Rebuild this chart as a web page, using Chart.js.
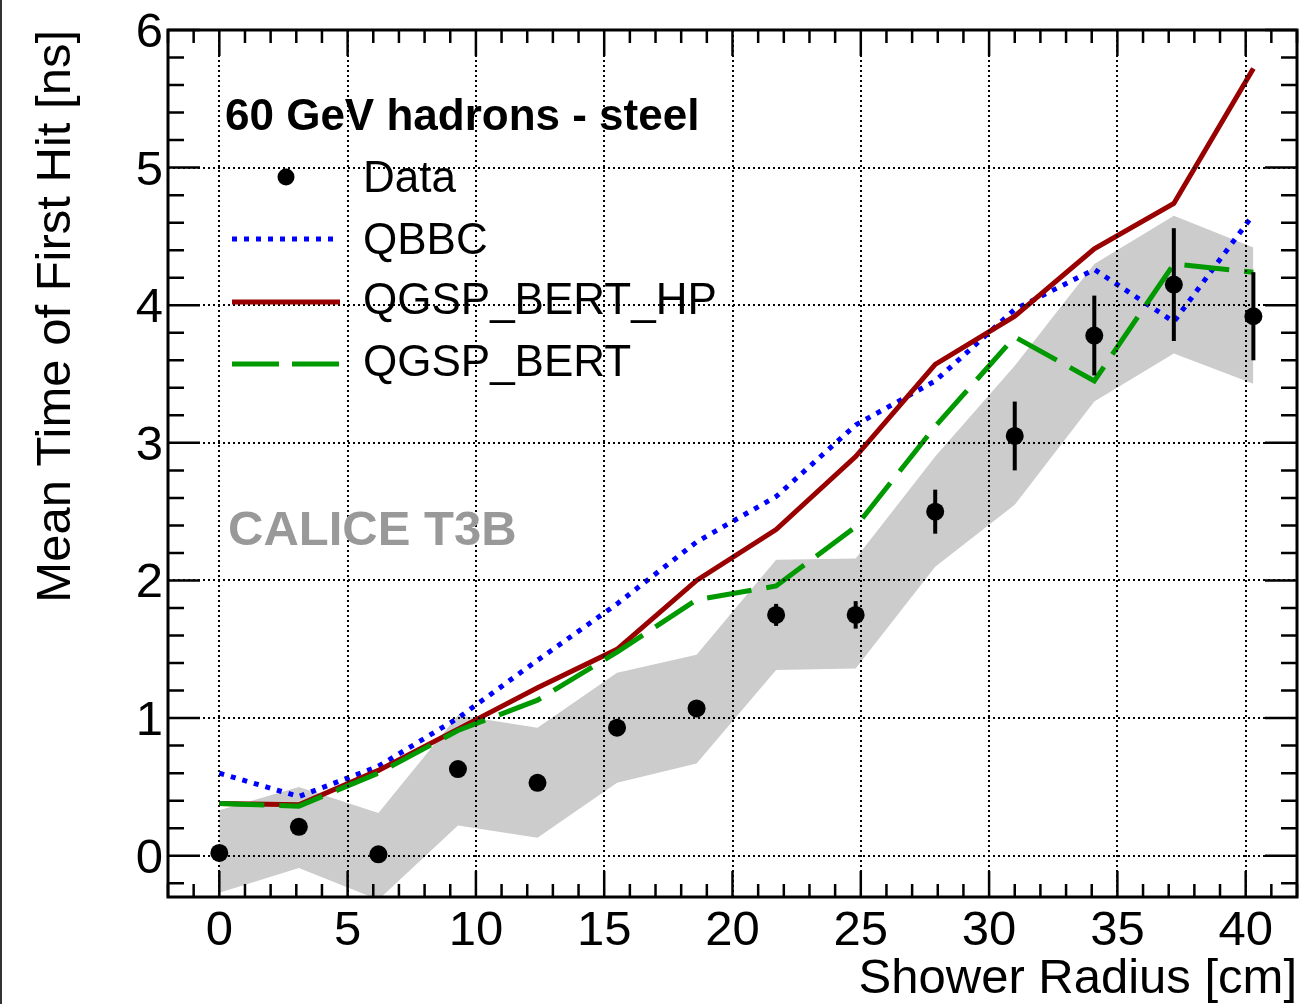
<!DOCTYPE html>
<html>
<head>
<meta charset="utf-8">
<script src="https://cdn.jsdelivr.net/npm/chart.js@4.4.1/dist/chart.umd.min.js"></script>
<style>
  html, body { margin: 0; padding: 0; background: #fff; }
  canvas { display: block; }
</style>
</head>
<body>
<canvas id="chart" width="1306" height="1004"></canvas>
<script>
// Données
const radius = [0, 3.1, 6.2, 9.3, 12.4, 15.5, 18.6, 21.7, 24.8, 27.9, 31.0, 34.1, 37.2, 40.3];
const dataMean = [0.02, 0.21, 0.01, 0.63, 0.53, 0.93, 1.07, 1.75, 1.75, 2.50, 3.05, 3.78, 4.15, 3.92];
const dataErr = [0.03, 0.03, 0.03, 0.04, 0.04, 0.05, 0.05, 0.08, 0.10, 0.16, 0.25, 0.29, 0.41, 0.32];
const sysLow = [-0.27, -0.09, -0.32, 0.22, 0.13, 0.53, 0.67, 1.35, 1.36, 2.10, 2.55, 3.30, 3.65, 3.43];
const sysHigh = [0.33, 0.50, 0.31, 1.02, 0.93, 1.33, 1.46, 2.15, 2.16, 2.90, 3.56, 4.30, 4.65, 4.42];
const qbbc = [0.60, 0.43, 0.65, 1.00, 1.42, 1.83, 2.28, 2.61, 3.13, 3.45, 3.97, 4.26, 3.88, 4.66];
const qgspBertHp = [0.38, 0.37, 0.62, 0.92, 1.22, 1.50, 2.00, 2.37, 2.90, 3.57, 3.92, 4.41, 4.74, 5.72];
const qgspBert = [0.38, 0.36, 0.60, 0.91, 1.13, 1.48, 1.86, 1.96, 2.39, 3.12, 3.77, 3.45, 4.30, 4.24];

const xTicks = [0, 5, 10, 15, 20, 25, 30, 35, 40];
const yTicks = [0, 1, 2, 3, 4, 5, 6];

const FONT = '"Liberation Sans", Arial, Helvetica, sans-serif';

function pts(values) {
    return radius.map((r, i) => ({ x: r, y: values[i] }));
}

// Fond blanc
const background = {
    id: 'background',
    beforeDraw(chart) {
        const ctx = chart.ctx;
        ctx.save();
        ctx.fillStyle = '#fff';
        ctx.fillRect(0, 0, chart.width, chart.height);
        ctx.restore();
    }
};

// Barres d'erreur des données
const errorBars = {
    id: 'errorBars',
    afterDatasetsDraw(chart) {
        const { ctx, scales: { x, y } } = chart;
        ctx.save();
        ctx.beginPath();
        ctx.rect(chart.chartArea.left, chart.chartArea.top,
                 chart.chartArea.right - chart.chartArea.left,
                 chart.chartArea.bottom - chart.chartArea.top);
        ctx.clip();
        ctx.strokeStyle = '#000';
        ctx.lineWidth = 4;
        radius.forEach((r, i) => {
            const px = x.getPixelForValue(r);
            ctx.beginPath();
            ctx.moveTo(px, y.getPixelForValue(dataMean[i] - dataErr[i]));
            ctx.lineTo(px, y.getPixelForValue(dataMean[i] + dataErr[i]));
            ctx.stroke();
        });
        ctx.restore();
    }
};

// Cadre, graduations, étiquettes et légende façon ROOT
const frame = {
    id: 'frame',
    afterDraw(chart) {
        const { ctx, chartArea: a, scales: { x, y } } = chart;
        ctx.save();

        // bord gauche de l'image
        ctx.fillStyle = '#333';
        ctx.fillRect(0, 0, 2, chart.height);

        // graduations
        ctx.strokeStyle = '#000';
        ctx.lineWidth = 2.5;
        ctx.beginPath();
        for (let v = -2; v <= 42; v++) {
            const px = x.getPixelForValue(v);
            const len = v % 5 === 0 ? 26 : 13;
            ctx.moveTo(px, a.bottom);
            ctx.lineTo(px, a.bottom - len);
            ctx.moveTo(px, a.top);
            ctx.lineTo(px, a.top + len);
        }
        for (let i = -1; i <= 30; i++) {
            const py = y.getPixelForValue(i / 5);
            const len = i % 5 === 0 ? 32 : 16;
            ctx.moveTo(a.left, py);
            ctx.lineTo(a.left + len, py);
            ctx.moveTo(a.right, py);
            ctx.lineTo(a.right - len, py);
        }
        ctx.stroke();

        // cadre
        ctx.lineWidth = 3;
        ctx.strokeRect(a.left, a.top, a.right - a.left, a.bottom - a.top);

        // étiquettes des axes
        ctx.fillStyle = '#000';
        ctx.font = '49px ' + FONT;
        ctx.textBaseline = 'alphabetic';
        ctx.textAlign = 'center';
        xTicks.forEach(v => ctx.fillText(String(v), x.getPixelForValue(v), 945));
        ctx.textAlign = 'right';
        yTicks.forEach(v => ctx.fillText(String(v), 163, y.getPixelForValue(v) + 17));

        // titres des axes
        ctx.textAlign = 'right';
        ctx.fillText('Shower Radius [cm]', a.right, 993);
        ctx.save();
        ctx.translate(70, a.top);
        ctx.rotate(-Math.PI / 2);
        ctx.textAlign = 'right';
        ctx.fillText('Mean Time of First Hit [ns]', 0, 0);
        ctx.restore();

        // légende
        ctx.textAlign = 'left';
        ctx.font = 'bold 44px ' + FONT;
        ctx.fillText('60 GeV hadrons - steel', 225, 130);

        ctx.font = '44px ' + FONT;
        ctx.fillText('Data', 363, 192);
        ctx.fillText('QBBC', 363, 254);
        ctx.fillText('QGSP_BERT_HP', 363, 314);
        ctx.fillText('QGSP_BERT', 363, 376);

        ctx.beginPath();
        ctx.arc(286, 177, 8.5, 0, Math.PI * 2);
        ctx.fill();

        ctx.lineWidth = 5;
        ctx.strokeStyle = '#0000ff';
        ctx.setLineDash([5, 7]);
        ctx.beginPath(); ctx.moveTo(232, 239); ctx.lineTo(340, 239); ctx.stroke();

        ctx.strokeStyle = '#990000';
        ctx.setLineDash([]);
        ctx.beginPath(); ctx.moveTo(232, 302); ctx.lineTo(340, 302); ctx.stroke();

        ctx.strokeStyle = '#009900';
        ctx.setLineDash([47, 13]);
        ctx.beginPath(); ctx.moveTo(232, 364); ctx.lineTo(340, 364); ctx.stroke();
        ctx.setLineDash([]);

        // marque CALICE
        ctx.fillStyle = '#999999';
        ctx.font = 'bold 49px ' + FONT;
        ctx.fillText('CALICE T3B', 228, 545);

        ctx.restore();
    }
};

const ctx = document.getElementById('chart').getContext('2d');
const chart = new Chart(ctx, {
    type: 'line',
    data: {
        datasets: [
            {
                label: 'sysHigh',
                data: pts(sysHigh),
                fill: '+1',
                backgroundColor: '#cccccc',
                borderWidth: 0,
                pointRadius: 0,
                tension: 0,
                order: 10
            },
            {
                label: 'sysLow',
                data: pts(sysLow),
                fill: false,
                borderWidth: 0,
                pointRadius: 0,
                tension: 0,
                order: 11
            },
            {
                label: 'QBBC',
                data: pts(qbbc),
                borderColor: '#0000ff',
                borderWidth: 5,
                borderDash: [5, 7],
                pointRadius: 0,
                fill: false,
                tension: 0,
                order: 4
            },
            {
                label: 'QGSP_BERT_HP',
                data: pts(qgspBertHp),
                borderColor: '#990000',
                borderWidth: 5,
                pointRadius: 0,
                fill: false,
                tension: 0,
                order: 3
            },
            {
                label: 'QGSP_BERT',
                data: pts(qgspBert),
                borderColor: '#009900',
                borderWidth: 5,
                borderDash: [45, 15],
                pointRadius: 0,
                fill: false,
                tension: 0,
                order: 2
            },
            {
                label: 'Data',
                data: pts(dataMean),
                showLine: false,
                pointRadius: 9,
                pointBackgroundColor: '#000',
                pointBorderColor: '#000',
                pointBorderWidth: 0,
                order: 0
            }
        ]
    },
    options: {
        responsive: false,
        devicePixelRatio: 1,
        animation: false,
        layout: {
            padding: { left: 168, top: 30, right: 8, bottom: 107 }
        },
        plugins: {
            legend: { display: false },
            tooltip: { enabled: false }
        },
        scales: {
            x: {
                type: 'linear',
                min: -2,
                max: 42,
                afterBuildTicks: axis => { axis.ticks = xTicks.map(v => ({ value: v })); },
                ticks: { display: false },
                grid: { color: '#000', lineWidth: 2, drawTicks: false, z: 1 },
                border: { display: false, dash: [2, 3] }
            },
            y: {
                type: 'linear',
                min: -0.3,
                max: 6,
                afterBuildTicks: axis => { axis.ticks = yTicks.map(v => ({ value: v })); },
                ticks: { display: false },
                grid: { color: '#000', lineWidth: 2, drawTicks: false, z: 1 },
                border: { display: false, dash: [2, 3] }
            }
        }
    },
    plugins: [background, errorBars, frame]
});
</script>
</body>
</html>
